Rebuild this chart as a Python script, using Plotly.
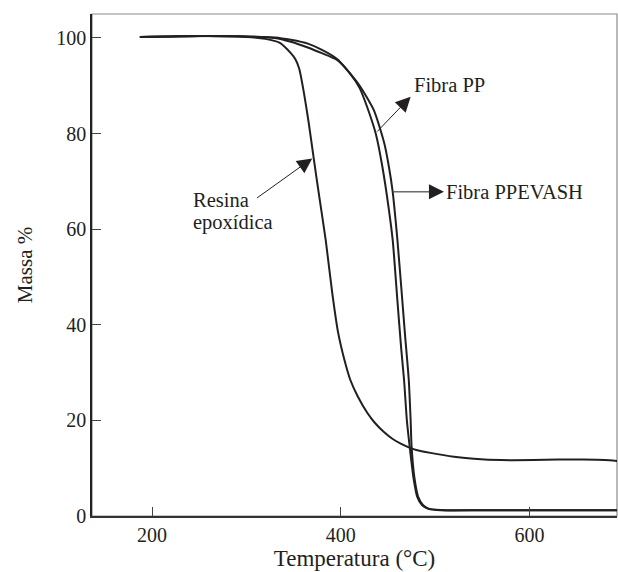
import plotly.graph_objects as go

# ---- data ----
resina_x = [187, 220, 260, 300, 320, 335, 347, 352, 356, 361, 366, 371, 377, 384,
            391, 397, 404, 410, 418, 428, 436, 446, 455, 463, 474, 480, 495, 520, 541,
            570, 604, 630, 657, 680, 693]
resina_y = [100.2, 100.3, 100.4, 100.2, 99.8, 99.0, 96.8, 95.5, 93.5, 88.4, 82.2, 75.2,
            67.0, 57.7, 46.5, 38.5, 32.5, 28.5, 25.0, 21.6, 19.5, 17.5, 16.1, 15.2, 14.2,
            13.8, 13.2, 12.4, 12.0, 11.7, 11.7, 11.8, 11.8, 11.7, 11.5]

pp_x = [187, 250, 300, 330, 347, 365, 380, 396, 410, 420, 428, 437, 444, 451, 455,
        460, 464, 467, 470, 473, 477, 481, 486, 492, 506, 550, 600, 693]
pp_y = [100.2, 100.4, 100.3, 100.0, 99.2, 98.0, 96.8, 95.4, 92.5, 89.5, 85.5, 80.0,
        73.1, 64.0, 57.7, 45.0, 35.0, 28.5, 20.0, 14.5, 8.0, 4.0, 2.3, 1.6, 1.25,
        1.2, 1.2, 1.2]

ppe_x = [187, 250, 300, 330, 347, 365, 380, 396, 408, 420, 435, 446, 451, 455, 458,
         460, 464, 468, 472, 474, 475, 478, 482, 487, 493, 506, 550, 600, 693]
ppe_y = [100.2, 100.4, 100.3, 100.1, 99.6, 98.8, 97.5, 95.6, 93.0, 90.0, 84.9, 78.0,
         73.0, 67.8, 62.0, 57.7, 48.0, 38.0, 28.5, 20.0, 14.5, 8.0, 4.0, 2.3, 1.5,
         1.2, 1.2, 1.2, 1.2]

x_ticks = [200, 400, 600]
y_ticks = [0, 20, 40, 60, 80, 100]

FONT = "Liberation Serif"
INK = "#231f20"

fig = go.Figure()
for xs, ys, name in [(resina_x, resina_y, "Resina epoxídica"),
                     (pp_x, pp_y, "Fibra PP"),
                     (ppe_x, ppe_y, "Fibra PPEVASH")]:
    fig.add_trace(go.Scatter(x=xs, y=ys, mode="lines", name=name,
                             line=dict(color=INK, width=2, shape="spline", smoothing=0.6),
                             showlegend=False, hoverinfo="skip"))

# arrows (tip near label, tail on curve)
arrows = [
    dict(x=474.0, y=87.7, ax=437.0, ay=80.1),
    dict(x=509.3, y=67.8, ax=454.6, ay=67.8),
    dict(x=369.7, y=74.8, ax=309.6, ay=66.3),
]
for a in arrows:
    fig.add_annotation(x=a["x"], y=a["y"], ax=a["ax"], ay=a["ay"],
                       xref="x", yref="y", axref="x", ayref="y",
                       text="", showarrow=True, arrowhead=2, arrowsize=3,
                       arrowwidth=1, arrowcolor=INK)

labels = [
    dict(x=477.0, y=90.2, text="Fibra PP"),
    dict(x=510.5, y=67.8, text="Fibra PPEVASH"),
    dict(x=242.0, y=66.1, text="Resina"),
    dict(x=242.0, y=61.3, text="epoxídica"),
]
for l in labels:
    fig.add_annotation(x=l["x"], y=l["y"], xref="x", yref="y", text=l["text"],
                       showarrow=False, xanchor="left", yanchor="middle", align="left",
                       borderpad=0,
                       font=dict(family=FONT, size=20.5, color=INK))

# frame (top/right in gray)
fig.add_shape(type="rect", xref="paper", yref="paper", x0=0, y0=0, x1=1, y1=1,
              line=dict(color="#8a8a8a", width=1.2), layer="below")

fig.update_layout(
    width=618, height=572,
    margin=dict(l=92, r=1, t=14, b=56),
    paper_bgcolor="white", plot_bgcolor="white",
    font=dict(family=FONT, color=INK),
    xaxis=dict(range=[136.3, 692.7], tickvals=x_ticks, ticks="inside", ticklen=9,
               tickcolor="#444", tickwidth=1, showline=True, linecolor="#333",
               linewidth=1.5, showgrid=False, zeroline=False,
               tickfont=dict(family=FONT, size=20, color=INK),
               title=dict(text="Temperatura (°C)", font=dict(family=FONT, size=23, color=INK),
                          standoff=2)),
    yaxis=dict(range=[0, 105], tickvals=y_ticks, ticks="inside", ticklen=9,
               tickcolor="#444", tickwidth=1, showline=True, linecolor="#222",
               linewidth=1.5, showgrid=False, zeroline=False,
               tickfont=dict(family=FONT, size=20, color=INK),
               title=dict(text="Massa %", font=dict(family=FONT, size=21, color=INK),
                          standoff=18)),
)

fig.write_html("out.html", config={"displayModeBar": False},
               post_script="document.body.style.margin='0';")
